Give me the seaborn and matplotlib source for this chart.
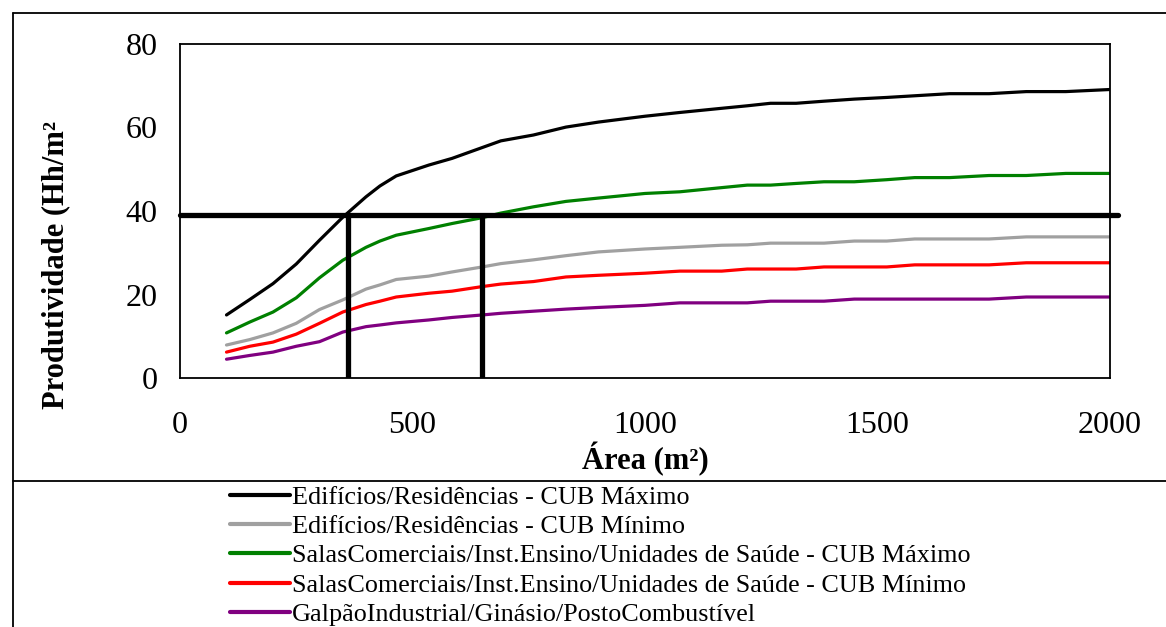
import matplotlib
matplotlib.use("Agg")
import matplotlib.pyplot as plt
import seaborn as sns
import pandas as pd
from matplotlib.lines import Line2D

# Area values (m²) at which productivity was evaluated
area = [100, 150, 200, 250, 300, 350, 400, 430, 465, 535, 585, 650, 690, 760, 830,
        900, 1000, 1075, 1165, 1220, 1270, 1325, 1385, 1450, 1520, 1580, 1655,
        1740, 1820, 1905, 2000]

series_names = [
    "Edifícios/Residências - CUB Máximo",
    "Edifícios/Residências - CUB Mínimo",
    "SalasComerciais/Inst.Ensino/Unidades de Saúde - CUB Máximo",
    "SalasComerciais/Inst.Ensino/Unidades de Saúde - CUB Mínimo",
    "GalpãoIndustrial/Ginásio/PostoCombustível",
]

edif_max = [15.1, 18.8, 22.6, 27.3, 33.0, 38.5, 43.4, 46.0, 48.4, 51.0, 52.6, 55.2,
            56.8, 58.2, 60.1, 61.3, 62.7, 63.6, 64.6, 65.2, 65.8, 65.8, 66.3, 66.8,
            67.2, 67.6, 68.1, 68.1, 68.6, 68.6, 69.1]
edif_min = [7.9, 9.2, 10.8, 13.1, 16.4, 18.7, 21.3, 22.3, 23.6, 24.4, 25.4, 26.6,
            27.4, 28.3, 29.3, 30.2, 30.9, 31.3, 31.8, 31.9, 32.3, 32.3, 32.3, 32.8,
            32.8, 33.3, 33.3, 33.3, 33.8, 33.8, 33.8]
salas_max = [10.8, 13.4, 15.8, 19.2, 24.0, 28.2, 31.3, 32.8, 34.2, 35.8, 37.0, 38.4,
             39.5, 41.0, 42.3, 43.1, 44.2, 44.6, 45.6, 46.2, 46.2, 46.6, 47.0, 47.0,
             47.5, 48.0, 48.0, 48.5, 48.5, 49.0, 49.0]
salas_min = [6.2, 7.6, 8.6, 10.5, 13.1, 15.8, 17.6, 18.4, 19.4, 20.3, 20.8, 21.9,
             22.5, 23.1, 24.2, 24.6, 25.1, 25.6, 25.6, 26.1, 26.1, 26.1, 26.6, 26.6,
             26.6, 27.1, 27.1, 27.1, 27.6, 27.6, 27.6]
galpao = [4.5, 5.4, 6.2, 7.6, 8.7, 11.0, 12.3, 12.7, 13.2, 13.9, 14.5, 15.1,
          15.5, 16.0, 16.5, 16.9, 17.4, 18.0, 18.0, 18.0, 18.4, 18.4, 18.4, 18.9,
          18.9, 18.9, 18.9, 18.9, 19.4, 19.4, 19.4]

series_colors = ["#000000", "#a0a0a0", "#008000", "#ff0000", "#800080"]

# Reference productivity and the areas where it meets the two CUB Máximo curves
ref_productivity = 39
ref_areas = [361, 650]
ref_line_end = 2017

x_ticks = [0, 500, 1000, 1500, 2000]
y_ticks = [0, 20, 40, 60, 80]

frames = []
for name, vals in zip(series_names, [edif_max, edif_min, salas_max, salas_min, galpao]):
    frames.append(pd.DataFrame({"area": area, "prod": vals, "serie": name}))
df = pd.concat(frames, ignore_index=True)

sns.set_theme(style="white")
plt.rcParams["font.family"] = ["Liberation Serif", "DejaVu Serif"]
plt.rcParams["text.color"] = "black"
plt.rcParams["axes.labelcolor"] = "black"
plt.rcParams["xtick.color"] = "black"
plt.rcParams["ytick.color"] = "black"

W, H = 1166, 627
fig = plt.figure(figsize=(W / 100, H / 100), dpi=100)
ax = fig.add_axes([180 / W, 1 - 378 / H, 930 / W, 334 / H])

sns.lineplot(data=df, x="area", y="prod", hue="serie", hue_order=series_names,
             palette=series_colors, linewidth=2.3, ax=ax, legend=False,
             estimator=None, sort=False)

# Reference lines
ax.plot([0, ref_line_end], [ref_productivity, ref_productivity], color="black",
        linewidth=3.8, solid_capstyle="round", clip_on=False, zorder=5)
for xa in ref_areas:
    ax.plot([xa, xa], [0, ref_productivity], color="black", linewidth=3.8,
            solid_capstyle="butt", zorder=5)

ax.set_xlim(0, 2000)
ax.set_ylim(0, 80)
ax.set_xticks(x_ticks)
ax.set_yticks(y_ticks)
ax.tick_params(axis="both", direction="out", length=7, width=1.2,
               labelsize=23)
ax.tick_params(axis="y", pad=9)
ax.tick_params(axis="x", pad=17)
for sp in ax.spines.values():
    sp.set_visible(True)
    sp.set_color("black")
    sp.set_linewidth(1.3)

ax.set_xlabel("Área (m²)", fontsize=22, fontweight="bold")
ax.xaxis.set_label_coords(0.5, -0.192)
ax.set_ylabel("Produtividade (Hh/m²", fontsize=22, fontweight="bold")
ax.yaxis.set_label_coords(-0.118, 0.338)

# Outer chart frame and divider above the legend
fig.add_artist(Line2D([13 / W, 13 / W], [0, 1 - 13 / H], color="black",
                      linewidth=1.3, transform=fig.transFigure))
fig.add_artist(Line2D([13 / W, 1], [1 - 13 / H, 1 - 13 / H], color="black",
                      linewidth=1.3, transform=fig.transFigure))
fig.add_artist(Line2D([13 / W, 1], [1 - 481 / H, 1 - 481 / H], color="black",
                      linewidth=1.3, transform=fig.transFigure))

handles = [Line2D([0], [0], color=c, linewidth=3) for c in series_colors]
fig.legend(handles, series_names, loc="upper left",
           bbox_to_anchor=(227 / W, 1 - 483 / H), frameon=False,
           fontsize=18.8, handlelength=2.3, handletextpad=0.08, labelspacing=0.23,
           borderaxespad=0, borderpad=0.1)

fig.savefig("out.png", dpi=100, facecolor="white")
